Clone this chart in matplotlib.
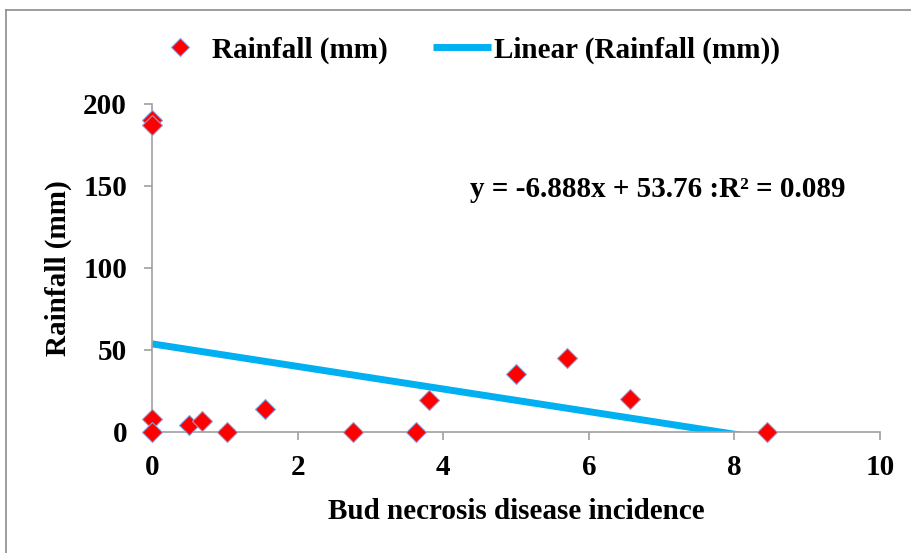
import numpy as np
import matplotlib.pyplot as plt
from matplotlib.lines import Line2D

plt.rcParams['font.family'] = ['Liberation Serif', 'DejaVu Serif']
plt.rcParams['font.weight'] = 'bold'

# data
incidence = [0, 0, 0, 0, 0.51, 0.69, 1.03, 1.55, 2.76, 3.63, 3.80, 5.00, 5.70, 6.56, 8.45]
rainfall = [190, 187, 8, 0, 4.2, 6.9, 0, 14.3, 0, 0, 19.6, 35.1, 45.4, 20.2, 0]
slope, intercept = -6.888, 53.76
r_squared = 0.089
x_ticks = [0, 2, 4, 6, 8, 10]
y_ticks = [0, 50, 100, 150, 200]

fs = 21

fig = plt.figure(figsize=(9.11, 5.53), dpi=100)
ax = fig.add_axes([152/911, 1-432/553, 728/911, 328/553])

# outer chart frame (only top and left edges visible)
fig.add_artist(Line2D([6/911, 6/911], [0, 1-10/553], color='#8c8c8c', lw=1.2, transform=fig.transFigure))
fig.add_artist(Line2D([6/911, 1], [1-10/553, 1-10/553], color='#8c8c8c', lw=1.2, transform=fig.transFigure))

xs = np.array([0, max(incidence)])
ax.plot(xs, slope*xs + intercept, color='#00B0F0', lw=5, solid_capstyle='butt',
        label='Linear (Rainfall (mm))', zorder=2)
ax.plot(incidence, rainfall, 'D', color='#FF0000', markersize=10.5, markeredgecolor='#8aa0d8',
        markeredgewidth=0.8, label='Rainfall (mm)', zorder=3, clip_on=False)

ax.set_xlim(0, 10)
ax.set_ylim(0, 200)
ax.set_xticks(x_ticks)
ax.set_yticks(y_ticks)
for s in ['top', 'right']:
    ax.spines[s].set_visible(False)
for s in ['left', 'bottom']:
    ax.spines[s].set_color('#a0a0a0')
    ax.spines[s].set_linewidth(1.2)
ax.tick_params(axis='both', colors='#a0a0a0', length=6, width=1.2, labelsize=fs,
               labelcolor='black', direction='out')
ax.tick_params(axis='x', pad=10)
ax.tick_params(axis='y', pad=12)
for lab in ax.get_xticklabels() + ax.get_yticklabels():
    lab.set_fontweight('bold')

ax.set_xlabel('Bud necrosis disease incidence', fontsize=fs, fontweight='bold', labelpad=12)
ax.set_ylabel('Rainfall (mm)', fontsize=fs, fontweight='bold', labelpad=8)

ax.text(4.37, 148, f'y = {slope}x + {intercept} :R² = {r_squared}', fontsize=fs,
        fontweight='bold', ha='left', va='center')

h, l = ax.get_legend_handles_labels()
fig.legend(h[::-1], l[::-1], loc='center', bbox_to_anchor=(0.511, 1-50/553), ncol=2,
           frameon=False, handlelength=2.0, handletextpad=0.1, columnspacing=1.55,
           markerscale=0.85, prop={'weight': 'bold', 'size': fs})

fig.savefig('out.png', dpi=100)
